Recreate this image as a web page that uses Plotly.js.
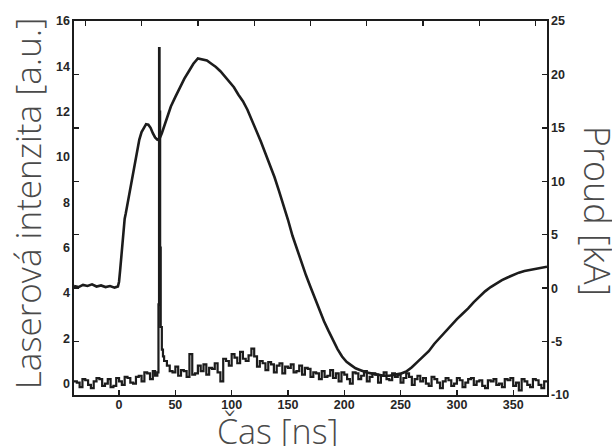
<!DOCTYPE html>
<html>
<head>
<meta charset="utf-8">
<script src="https://cdn.plot.ly/plotly-3.0.1.min.js"></script>
<style>html,body{margin:0;padding:0;background:#fff;}#chart{width:612px;height:446px;}</style>
</head>
<body>
<div id="chart"></div>
<script>
// Laser intensity [a.u.] (left axis)
const laserTime = [-40,-37.5,-35,-32.5,-30,-27.5,-25,-22.5,-20,-17.5,-15,-12.5,-10,-7.5,-5,-2.5,0,2.5,5,7.5,10,12.5,15,17.5,20,22.5,25,27.5,30,32,34,35,35.5,36,36.5,37,38,39,40,42.5,45,47.5,50,52.5,55,57.5,60,62.5,65,67.5,70,72.5,75,77.5,80,82.5,85,87.5,90,92.5,95,97.5,100,102.5,105,107.5,110,112.5,115,117.5,120,122.5,125,127.5,130,132.5,135,137.5,140,142.5,145,147.5,150,152.5,155,157.5,160,162.5,165,167.5,170,172.5,175,177.5,180,182.5,185,187.5,190,192.5,195,197.5,200,202.5,205,207.5,210,212.5,215,217.5,220,222.5,225,227.5,230,232.5,235,237.5,240,242.5,245,247.5,250,252.5,255,257.5,260,262.5,265,267.5,270,272.5,275,277.5,280,282.5,285,287.5,290,292.5,295,297.5,300,302.5,305,307.5,310,312.5,315,317.5,320,322.5,325,327.5,330,332.5,335,337.5,340,342.5,345,347.5,350,352.5,355,357.5,360,362.5,365,367.5,370,372.5,375,377.5,380];
const laserValue = [
  0.1,0.05,-0.15,0.2,0.15,-0.05,-0.2,0.1,0.25,0.2,
  -0.1,0.0,0.2,-0.15,-0.1,0.25,0.1,-0.05,0.3,0.25,
  0.05,0.0,0.3,0.35,0.1,0.5,0.45,0.2,0.55,
  0.35,0.5,3.5,14.8,12.0,6.0,2.5,1.5,1.2,1.0,
  0.8,0.55,0.5,0.75,0.35,0.6,0.55,0.3,1.3,0.4,
  0.45,0.8,0.55,0.85,0.4,0.7,0.65,0.9,0.5,0.1,
  1.1,1.0,0.8,1.3,1.15,0.9,1.4,1.1,1.0,1.25,
  1.55,1.2,0.75,1.0,0.9,0.6,0.95,0.85,0.5,0.8,
  0.9,0.45,0.75,0.7,0.85,0.5,0.55,0.8,0.4,0.7,
  0.65,0.3,0.5,0.45,0.2,0.55,0.3,0.35,0.6,0.25,
  0.45,0.1,0.5,0.4,0.2,0.0,0.5,0.45,0.2,0.35,
  0.55,0.1,0.3,0.45,0.4,0.05,0.35,0.5,0.2,0.15,
  0.45,0.3,0.4,0.05,0.25,0.45,0.3,-0.05,0.2,0.35,
  0.1,0.25,0.0,-0.1,0.3,0.2,0.05,-0.2,0.1,0.25,
  0.15,-0.1,0.0,0.25,0.15,-0.15,0.05,0.2,0.25,-0.05,
  0.1,0.15,-0.1,-0.2,0.15,0.1,0.2,-0.05,0.0,-0.15,
  0.2,0.15,0.25,-0.1,0.05,-0.3,0.2,0.1,-0.05,-0.15,
  0.2,0.15,-0.05,-0.2,0.1,0.05];

// Current [kA] (right axis)
const currentTime = [-40,-36,-32,-28,-24,-20,-16,-12,-8,-4,-1,0,1,2,3,4,5,6,8,10,12,14,16,18,20,22,24,26,28,30,32,34,36,38,40,43,46,50,54,58,62,66,70,74,78,82,86,90,94,98,102,106,110,114,118,122,126,130,134,138,142,146,150,154,158,162,166,170,174,178,182,186,190,194,198,202,206,210,215,220,225,230,235,240,245,250,255,260,265,270,275,280,285,290,295,300,305,310,315,320,325,330,335,340,345,350,355,360,365,370,375,380];
const currentValue = [0.2,0.1,0.3,0.2,0.35,0.15,0.25,0.1,0.2,0.05,0.15,0.6,1.7,3.0,4.2,5.6,6.5,7.0,8.2,9.3,10.5,11.8,13.0,13.9,14.6,15.0,15.35,15.3,15.0,14.5,14.1,13.9,14.0,14.5,15.1,16.0,17.0,17.9,18.8,19.6,20.3,21.0,21.5,21.4,21.3,21.0,20.7,20.3,19.8,19.3,18.8,18.1,17.5,16.7,15.7,14.8,13.7,12.6,11.5,10.4,9.1,7.8,6.4,4.9,3.6,2.4,1.2,0.1,-1.0,-2.0,-3.1,-4.0,-4.9,-5.7,-6.4,-6.9,-7.2,-7.5,-7.7,-7.9,-8.0,-8.1,-8.2,-8.2,-8.1,-8.0,-7.8,-7.4,-6.9,-6.4,-5.9,-5.2,-4.6,-4.0,-3.5,-2.9,-2.4,-1.9,-1.3,-0.8,-0.3,0.1,0.45,0.75,1.0,1.25,1.45,1.6,1.7,1.85,1.9,2.0];

// Tick labels
const xTicks = [0,50,100,150,200,250,300,350];
const xTopTicks = [-30,20,70,120,170,220,270,320,370];
const yLeftTicks = [0,2,4,6,8,10,12,14,16];
const yRightTicks = [-10,-5,0,5,10,15,20,25];
const yLeftMinorTicks = [-5,0,5,10,15,20];

const titleLeft = "Laserová intenzita [a.u.]";
const titleRight = "Proud [kA]";
const titleX = "Čas [ns]";

const ink = "#1c1c1c";
const tickFont = {family: "Liberation Sans, Arial, sans-serif", size: 12.5, color: "#262626", weight: "bold"};
const titleFont = {family: "Open Sans, Noto Sans, sans-serif", size: 35, color: "#4a4a4a", weight: 300};

const traces = [
  {x: laserTime, y: laserValue, type: "scatter", mode: "lines", line: {color: ink, width: 2.2, shape: "hv"}, xaxis: "x", yaxis: "y", showlegend: false, hoverinfo: "skip"},
  {x: currentTime, y: currentValue, type: "scatter", mode: "lines", line: {color: ink, width: 2.6}, xaxis: "x", yaxis: "y2", showlegend: false, hoverinfo: "skip"},
  {x: [null], y: [null], type: "scatter", mode: "lines", xaxis: "x2", yaxis: "y2", showlegend: false, hoverinfo: "skip"},
  {x: [null], y: [null], type: "scatter", mode: "lines", xaxis: "x", yaxis: "y3", showlegend: false, hoverinfo: "skip"}
];

const layout = {
  width: 612, height: 446,
  margin: {l: 74, r: 65, t: 21, b: 51},
  paper_bgcolor: "#fff", plot_bgcolor: "#fff",
  showlegend: false,
  xaxis: {range: [-40, 380], tickmode: "array", tickvals: xTicks, ticktext: xTicks.map(String),
    ticks: "inside", ticklen: 5, tickwidth: 1.3, tickcolor: ink, showline: true, linecolor: ink, linewidth: 1.6,
    showgrid: false, zeroline: false, tickfont: tickFont, ticklabelstandoff: -3},
  xaxis2: {range: [-40, 380], overlaying: "x", side: "top", anchor: "y", tickmode: "array", tickvals: xTopTicks,
    ticks: "inside", ticklen: 5, tickwidth: 1.3, tickcolor: ink, showticklabels: false, showline: true, linecolor: ink, linewidth: 1.6,
    showgrid: false, zeroline: false},
  yaxis: {range: [-0.5, 16], tickmode: "array", tickvals: yLeftTicks, ticktext: yLeftTicks.map(String),
    ticks: "", showline: true, linecolor: ink, linewidth: 1.6, showgrid: false, zeroline: false, tickfont: tickFont},
  yaxis2: {range: [-10, 25], overlaying: "y", side: "right", anchor: "x", tickmode: "array", tickvals: yRightTicks, ticktext: yRightTicks.map(String),
    ticks: "inside", ticklen: 5, tickwidth: 1.3, tickcolor: ink, showline: true, linecolor: ink, linewidth: 1.6,
    showgrid: false, zeroline: false, tickfont: tickFont},
  yaxis3: {range: [-10, 25], overlaying: "y", side: "left", anchor: "x", tickmode: "array", tickvals: yLeftMinorTicks,
    ticks: "inside", ticklen: 5, tickwidth: 1.3, tickcolor: ink, showticklabels: false, showline: false,
    showgrid: false, zeroline: false},
  annotations: [
    {text: titleLeft, xref: "paper", yref: "paper", x: -0.099, y: 0.513, xanchor: "center", yanchor: "middle", textangle: -90, showarrow: false, font: titleFont},
    {text: titleRight, xref: "paper", yref: "paper", x: 1.106, y: 0.492, xanchor: "center", yanchor: "middle", textangle: 90, showarrow: false, font: Object.assign({}, titleFont, {size: 36})},
    {text: titleX, xref: "paper", yref: "paper", x: 0.431, y: -0.095, xanchor: "center", yanchor: "middle", showarrow: false, font: Object.assign({}, titleFont, {size: 34})}
  ]
};

Plotly.newPlot("chart", traces, layout, {staticPlot: true, displayModeBar: false});
</script>
</body>
</html>
